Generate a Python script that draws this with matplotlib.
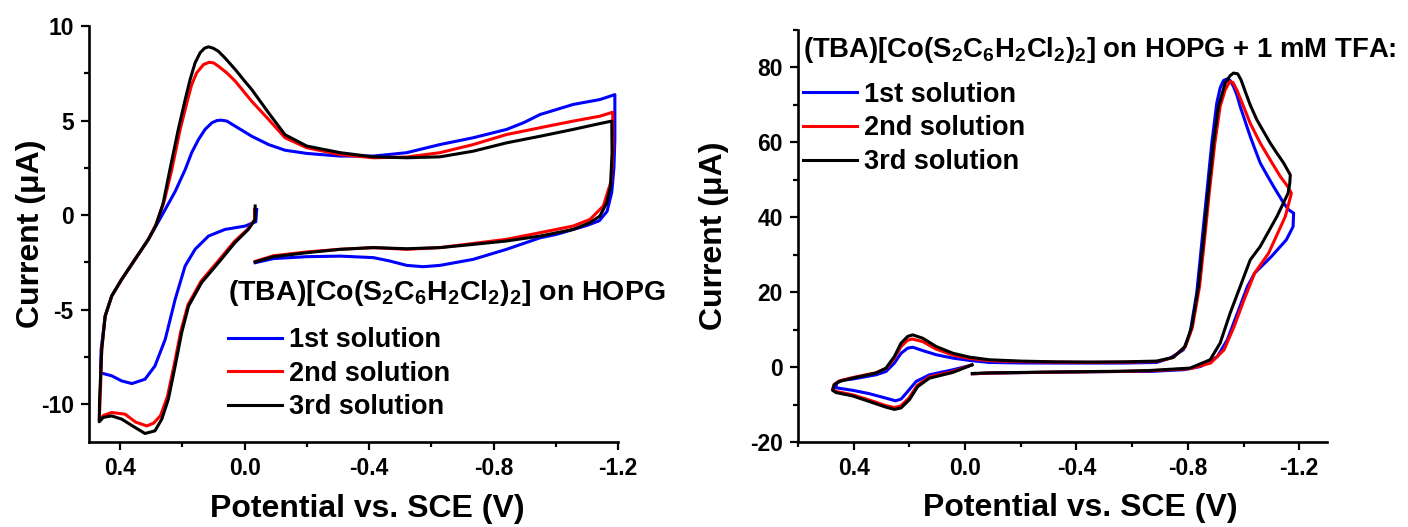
"""Cyclic voltammograms of (TBA)[Co(S2C6H2Cl2)2] on HOPG, without and with TFA."""

import matplotlib
matplotlib.use("Agg")
import matplotlib.pyplot as plt
from matplotlib.ticker import MultipleLocator, FormatStrFormatter

plt.rcParams["font.family"] = ["Liberation Sans", "DejaVu Sans"]
plt.rcParams["font.weight"] = "bold"
plt.rcParams["axes.unicode_minus"] = False
plt.rcParams["mathtext.fontset"] = "custom"
plt.rcParams["mathtext.rm"] = "Liberation Sans:bold"
plt.rcParams["mathtext.bf"] = "Liberation Sans:bold"
plt.rcParams["mathtext.it"] = "Liberation Sans:bold:italic"

# ---- left panel: complex on HOPG (E in V vs SCE, I in uA), path order ----
left_blue_E = [-0.039, -0.036, -0.002, 0.063, 0.116, 0.159, 0.191, 0.223, 0.255, 0.288,
               0.320, 0.362, 0.395, 0.427, 0.459, 0.463, 0.461, 0.448, 0.427, 0.395,
               0.352, 0.309, 0.277, 0.255, 0.223, 0.191, 0.170, 0.148, 0.127, 0.105,
               0.089, 0.075, 0.057, 0.030, 0.004, -0.023, -0.077, -0.130, -0.200, -0.307,
               -0.414, -0.521, -0.628, -0.735, -0.842, -0.896, -0.950, -1.056, -1.142, -1.190,
               -1.190, -1.187, -1.180, -1.165, -1.140, -1.100, -1.056, -1.003, -0.950, -0.842,
               -0.735, -0.628, -0.574, -0.521, -0.467, -0.414, -0.307, -0.200, -0.093, -0.034]
left_blue_I = [0.30, -0.35, -0.58, -0.76, -1.11, -1.81, -2.69, -4.45, -6.57, -7.98,
               -8.68, -8.91, -8.77, -8.50, -8.36, -8.30, -7.10, -5.34, -4.28, -3.40,
               -2.34, -1.28, -0.35, 0.30, 1.25, 2.40, 3.30, 4.00, 4.53, 4.88,
               5.00, 5.02, 4.97, 4.70, 4.44, 4.17, 3.73, 3.43, 3.26, 3.12,
               3.12, 3.30, 3.73, 4.09, 4.53, 4.88, 5.32, 5.85, 6.11, 6.37,
               4.00, 2.50, 1.20, 0.20, -0.30, -0.55, -0.76, -1.02, -1.20, -1.81,
               -2.34, -2.66, -2.73, -2.66, -2.43, -2.25, -2.17, -2.20, -2.30, -2.52]

left_red_E = [-0.032, -0.032, -0.010, 0.033, 0.086, 0.140, 0.182, 0.205, 0.226, 0.248,
              0.270, 0.292, 0.314, 0.350, 0.384, 0.427, 0.454, 0.467, 0.464, 0.459,
              0.448, 0.427, 0.395, 0.352, 0.309, 0.285, 0.258, 0.234, 0.207, 0.183,
              0.170, 0.154, 0.132, 0.114, 0.100, 0.084, 0.057, 0.030, -0.023, -0.077,
              -0.130, -0.200, -0.307, -0.414, -0.521, -0.628, -0.735, -0.842, -0.950, -1.056,
              -1.142, -1.183, -1.184, -1.178, -1.153, -1.110, -1.056, -0.950, -0.842, -0.735,
              -0.628, -0.521, -0.414, -0.307, -0.200, -0.093, -0.034]
left_red_I = [0.30, -0.25, -0.75, -1.40, -2.45, -3.50, -4.75, -6.15, -7.90, -9.60,
              -10.60, -11.00, -11.15, -10.95, -10.53, -10.44, -10.60, -10.85, -9.70, -7.10,
              -5.34, -4.28, -3.40, -2.34, -1.28, -0.50, 0.75, 2.40, 4.53, 6.10,
              6.90, 7.52, 7.96, 8.08, 8.05, 7.87, 7.52, 7.08, 6.02, 5.06,
              4.09, 3.56, 3.20, 3.03, 3.07, 3.30, 3.73, 4.26, 4.62, 4.97,
              5.23, 5.44, 3.50, 1.80, 0.48, -0.23, -0.58, -0.93, -1.28, -1.50,
              -1.72, -1.81, -1.72, -1.81, -1.95, -2.15, -2.45]

left_black_E = [-0.034, -0.034, -0.012, 0.031, 0.084, 0.138, 0.180, 0.202, 0.223, 0.245,
                0.266, 0.288, 0.320, 0.352, 0.395, 0.427, 0.454, 0.467, 0.466, 0.459,
                0.448, 0.427, 0.395, 0.352, 0.309, 0.285, 0.262, 0.240, 0.213, 0.191,
                0.175, 0.159, 0.143, 0.129, 0.116, 0.100, 0.084, 0.063, 0.030, 0.004,
                -0.023, -0.077, -0.130, -0.200, -0.307, -0.414, -0.521, -0.628, -0.735, -0.842,
                -0.950, -1.056, -1.142, -1.180, -1.181, -1.176, -1.164, -1.142, -1.110, -1.056,
                -0.950, -0.842, -0.735, -0.628, -0.521, -0.414, -0.307, -0.200, -0.093, -0.034]
left_black_I = [0.48, -0.23, -0.76, -1.46, -2.52, -3.57, -4.81, -6.21, -7.98, -9.74,
                -10.79, -11.41, -11.55, -11.23, -10.79, -10.62, -10.70, -10.93, -9.74, -7.10,
                -5.34, -4.28, -3.40, -2.34, -1.28, -0.55, 0.60, 2.40, 4.53, 6.10,
                7.17, 8.05, 8.58, 8.82, 8.90, 8.82, 8.66, 8.31, 7.70, 7.17,
                6.64, 5.41, 4.25, 3.65, 3.30, 3.08, 3.03, 3.08, 3.38, 3.82,
                4.17, 4.53, 4.84, 4.97, 3.30, 1.53, 0.65, -0.05, -0.40, -0.76,
                -1.11, -1.37, -1.55, -1.72, -1.78, -1.72, -1.81, -1.99, -2.20, -2.48]

# ---- right panel: same complex + 1 mM TFA ----
right_blue_E = [-0.022, 0.044, 0.128, 0.176, 0.206, 0.230, 0.250, 0.284, 0.344, 0.404,
                0.458, 0.466, 0.460, 0.440, 0.404, 0.320, 0.284, 0.254, 0.230, 0.206,
                0.188, 0.152, 0.104, 0.044, -0.016, -0.088, -0.200, -0.328, -0.450, -0.568,
                -0.688, -0.736, -0.784, -0.808, -0.832, -0.850, -0.868, -0.886, -0.904, -0.916,
                -0.928, -0.940, -0.952, -0.964, -0.976, -0.988, -1.006, -1.024, -1.042, -1.060,
                -1.084, -1.108, -1.144, -1.162, -1.180, -1.178, -1.154, -1.100, -1.040, -1.014,
                -0.978, -0.942, -0.906, -0.846, -0.786, -0.664, -0.568, -0.328, -0.088, -0.026]
right_blue_I = [0.5, -0.72, -2.06, -3.84, -6.5, -8.55, -9.0, -8.3, -7.1, -6.2,
                -5.6, -5.5, -4.2, -3.5, -3.2, -2.06, -1.17, 1.07, 3.7, 5.07,
                5.3, 4.4, 3.3, 2.4, 1.77, 1.23, 1.1, 1.07, 1.07, 1.07,
                1.23, 2.4, 4.6, 9.1, 19.8, 33.1, 46.4, 59.8, 70.5, 74.5,
                76.5, 76.9, 76.5, 74.9, 72.7, 69.6, 65.6, 61.6, 58.0, 54.5,
                51.3, 48.2, 43.8, 42.0, 41.1, 37.5, 34.0, 29.5, 25.1, 21.5,
                14.4, 7.3, 2.8, 0.16, -0.7, -1.17, -1.17, -1.35, -1.6, -1.8]

right_red_E = [-0.024, 0.044, 0.128, 0.172, 0.202, 0.232, 0.254, 0.284, 0.344, 0.404,
               0.464, 0.476, 0.470, 0.452, 0.404, 0.320, 0.284, 0.254, 0.230, 0.206,
               0.190, 0.152, 0.104, 0.044, -0.016, -0.088, -0.200, -0.328, -0.450, -0.568,
               -0.688, -0.745, -0.790, -0.816, -0.842, -0.860, -0.878, -0.897, -0.916, -0.934,
               -0.950, -0.962, -0.976, -1.000, -1.024, -1.060, -1.096, -1.132, -1.159, -1.172,
               -1.150, -1.090, -1.040, -1.002, -0.966, -0.930, -0.882, -0.810, -0.664, -0.568,
               -0.328, -0.088, -0.026]
right_red_I = [0.6, -1.2, -2.6, -4.9, -8.3, -10.4, -10.8, -10.3, -8.8, -7.4,
               -6.5, -6.0, -4.6, -3.7, -2.8, -1.5, -0.4, 2.4, 5.5, 7.2,
               7.5, 6.8, 4.8, 3.2, 2.3, 1.7, 1.45, 1.3, 1.25, 1.3,
               1.5, 2.5, 5.3, 10.5, 21.5, 34.0, 47.3, 59.8, 69.6, 74.0,
               76.2, 76.0, 74.0, 69.6, 65.1, 59.8, 55.3, 50.9, 48.2, 46.4,
               40.2, 30.4, 25.1, 18.0, 10.8, 4.6, 1.07, -0.4, -1.0, -1.15,
               -1.35, -1.6, -1.8]

right_black_E = [-0.025, 0.044, 0.128, 0.170, 0.200, 0.230, 0.254, 0.284, 0.344, 0.404,
                 0.464, 0.476, 0.470, 0.452, 0.404, 0.320, 0.284, 0.254, 0.230, 0.206,
                 0.188, 0.152, 0.104, 0.044, -0.016, -0.088, -0.200, -0.328, -0.450, -0.568,
                 -0.688, -0.748, -0.790, -0.814, -0.838, -0.856, -0.874, -0.892, -0.910, -0.934,
                 -0.952, -0.964, -0.979, -0.991, -1.006, -1.024, -1.048, -1.072, -1.096, -1.120,
                 -1.144, -1.168, -1.166, -1.160, -1.120, -1.060, -1.024, -0.988, -0.952, -0.916,
                 -0.880, -0.808, -0.664, -0.568, -0.328, -0.088, -0.026]
right_black_I = [0.6, -1.43, -2.95, -5.2, -8.7, -10.9, -11.3, -10.7, -9.2, -7.7,
                 -6.8, -6.2, -4.7, -3.84, -2.95, -1.6, -0.27, 2.83, 6.4, 8.2,
                 8.6, 7.7, 5.5, 3.7, 2.65, 1.95, 1.6, 1.4, 1.35, 1.4,
                 1.6, 2.6, 5.5, 10.8, 21.5, 34.0, 47.3, 59.8, 69.6, 75.8,
                 77.8, 78.5, 78.3, 76.7, 73.6, 70.0, 66.0, 62.9, 59.8, 57.1,
                 54.5, 51.3, 49.0, 46.4, 40.2, 32.2, 28.6, 21.5, 14.4, 6.4,
                 1.95, -0.27, -0.9, -1.1, -1.3, -1.55, -1.7]

series_labels = ["1st solution", "2nd solution", "3rd solution"]
series_colors = ["#0000ff", "#ff0000", "#000000"]

left_title = r"(TBA)[Co(S$_2$C$_6$H$_2$Cl$_2$)$_2$] on HOPG"
right_title = r"(TBA)[Co(S$_2$C$_6$H$_2$Cl$_2$)$_2$] on HOPG + 1 mM TFA:"


def style_axis(ax, ymajor, yminor, ylab_x, xlab_x):
    for side in ("top", "right"):
        ax.spines[side].set_visible(False)
    for side in ("left", "bottom"):
        ax.spines[side].set_linewidth(1.9)
    ax.xaxis.set_major_locator(MultipleLocator(0.4))
    ax.xaxis.set_minor_locator(MultipleLocator(0.2))
    ax.yaxis.set_major_locator(MultipleLocator(ymajor))
    ax.yaxis.set_minor_locator(MultipleLocator(yminor))
    ax.xaxis.set_major_formatter(FormatStrFormatter("%.1f"))
    ax.tick_params(which="major", direction="out", length=6, width=1.6,
                   labelsize=16.5, pad=5)
    ax.tick_params(which="minor", direction="out", length=3.5, width=1.6)
    for lab in ax.get_xticklabels() + ax.get_yticklabels():
        lab.set_fontweight("bold")
    ax.set_xlabel("Potential vs. SCE (V)", fontsize=23, fontweight="bold")
    ax.set_ylabel("Current (μA)", fontsize=23, fontweight="bold")
    ax.xaxis.set_label_coords(xlab_x, -0.125)
    ax.yaxis.set_label_coords(ylab_x, 0.5)


fig = plt.figure(figsize=(14.08, 5.27), dpi=100)
ax1 = fig.add_axes([0.0632, 0.1613, 0.3757, 0.7894])
ax2 = fig.add_axes([0.5668, 0.1613, 0.3757, 0.7818])

left_data = [(left_blue_E, left_blue_I), (left_red_E, left_red_I), (left_black_E, left_black_I)]
right_data = [(right_blue_E, right_blue_I), (right_red_E, right_red_I), (right_black_E, right_black_I)]

for (E, I), lab, col in zip(left_data, series_labels, series_colors):
    ax1.plot(E, I, color=col, lw=2.2, label=lab, solid_joinstyle="round")
for (E, I), lab, col in zip(right_data, series_labels, series_colors):
    ax2.plot(E, I, color=col, lw=2.2, label=lab, solid_joinstyle="round")

ax1.set_xlim(0.5, -1.2)
ax1.set_ylim(-12, 10)
style_axis(ax1, 5, 2.5, -0.082, 0.526)
ax1.set_yticks([-10, -5, 0, 5, 10])

ax2.set_xlim(0.6, -1.3)
ax2.set_ylim(-20, 90)
style_axis(ax2, 20, 10, -0.13, 0.533)
ax2.set_yticks([-20, 0, 20, 40, 60, 80])

leg_kw = dict(loc="upper left", frameon=False, borderpad=0, borderaxespad=0,
              handlelength=2.0, handletextpad=0.25, labelspacing=0.28,
              prop={"size": 19.5, "weight": "bold"})
ax1.text(0.263, 0.358, left_title, transform=ax1.transAxes, fontsize=20.5,
         fontweight="bold", ha="left", va="center")
ax1.legend(bbox_to_anchor=(0.263, 0.276), **leg_kw)
ax2.text(0.0095, 0.951, right_title, transform=ax2.transAxes, fontsize=19.8,
         fontweight="bold", ha="left", va="center")
ax2.legend(bbox_to_anchor=(0.0095, 0.874), **leg_kw)

fig.savefig("out.png", dpi=100)
